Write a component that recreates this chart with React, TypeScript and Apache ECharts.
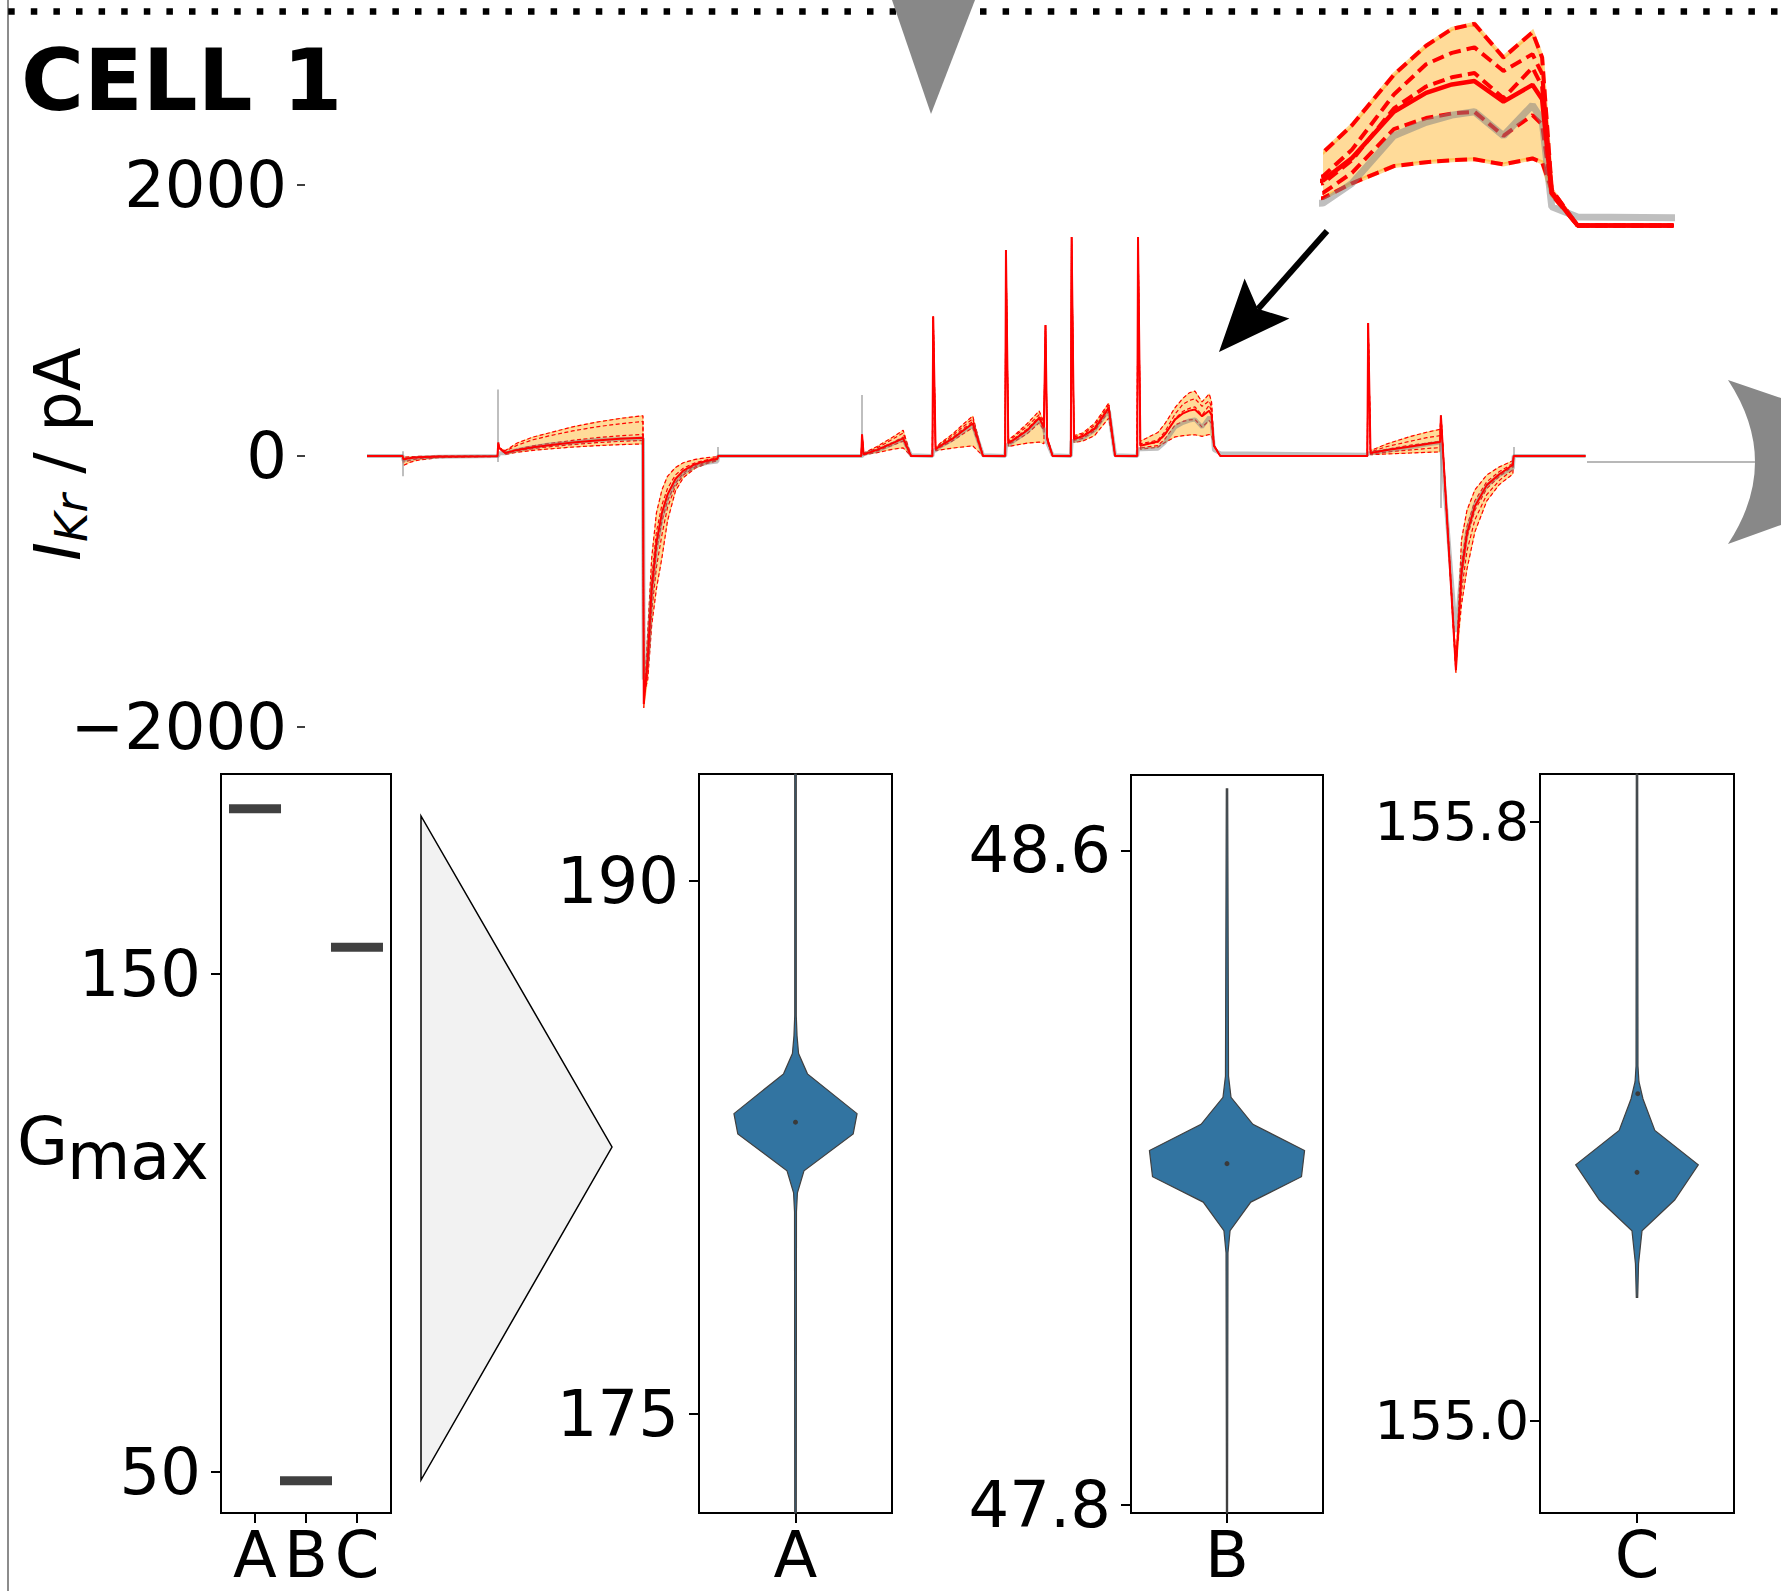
import React, { useEffect, useRef } from 'react';
import * as echarts from 'echarts';

const FONT = 'DejaVu Sans';

// ---- time grid of the current trace (s) ----
const timeS = [
  0, 0.45, 0.46, 0.55, 0.65, 0.90, 1.65,
  1.66, 1.67, 1.75, 1.90, 2.10, 2.30, 2.60, 2.90, 3.20, 3.49,
  3.50, 3.55, 3.60, 3.66, 3.73, 3.80, 3.90, 4.00, 4.15, 4.30, 4.43, 4.44,
  6.25,
  6.26, 6.28, 6.45, 6.65, 6.78, 6.88, 7.15,
  7.16, 7.19, 7.25, 7.40, 7.55, 7.66, 7.79, 8.07,
  8.08, 8.11, 8.20, 8.35, 8.50, 8.56, 8.58, 8.60, 8.67, 8.90,
  8.91, 8.94, 9.05, 9.20, 9.38, 9.46, 9.74,
  9.75, 9.78, 10.00, 10.09, 10.22, 10.32, 10.40, 10.47, 10.56, 10.65, 10.68, 10.71, 10.79, 12.65,
  12.66, 12.69, 12.90, 13.20, 13.40, 13.57, 13.58, 13.77, 13.84, 13.91, 14.01, 14.16, 14.32, 14.49, 14.50, 15.41,
];

// ---- model traces (pA), dashed ones and the solid best fit ----
const fit1 = [
  0, 0, -10, -5, -3, -1, 0,
  100, 60, 40, 96, 140, 170, 215, 250, 277, 297,
  -1860, -1300, -753, -420, -250, -150, -85, -50, -25, -12, -6, 0,
  0,
  160, 20, 70, 140, 190, 0, 0,
  1030, 60, 95, 160, 240, 295, 0, 0,
  1520, 120, 160, 240, 332, 250, 967, 150, 0, 0,
  1616, 150, 170, 240, 391, 0, 0,
  1616, 110, 173, 238, 358, 427, 467, 479, 399, 459, 399, 84, 0, 0,
  982, 40, 90, 145, 175, 197, 300, -1600, -620, -400, -250, -140, -80, -35, 0, 0,
];
const fit2 = [
  0, 0, -20, -12, -8, -3, 0,
  100, 60, 35, 80, 120, 148, 185, 215, 238, 255,
  -1840, -1450, -900, -560, -360, -240, -140, -90, -50, -28, -15, 0,
  0,
  160, 15, 60, 125, 170, 0, 0,
  1030, 55, 88, 148, 222, 275, 0, 0,
  1520, 110, 150, 220, 305, 235, 967, 140, 0, 0,
  1616, 140, 160, 225, 375, 0, 0,
  1616, 90, 117, 180, 311, 383, 410, 423, 367, 407, 360, 80, 0, 0,
  982, 30, 70, 110, 135, 150, 300, -1580, -800, -520, -330, -190, -115, -55, 0, 0,
];
const fit3 = [
  0, 0, -30, -18, -12, -5, -1,
  100, 60, 25, 50, 75, 92, 115, 135, 149, 160,
  -1800, -1550, -1050, -700, -480, -330, -200, -125, -70, -42, -25, 0,
  0,
  160, 12, 50, 100, 140, 0, 0,
  1030, 50, 80, 135, 205, 255, 0, 0,
  1520, 100, 135, 200, 290, 220, 967, 130, 0, 0,
  1616, 130, 150, 210, 362, 0, 0,
  1616, 80, 100, 155, 278, 330, 352, 362, 302, 375, 330, 78, 0, 0,
  982, 25, 50, 80, 95, 108, 300, -1560, -900, -600, -400, -240, -150, -75, 0, 0,
];
const fitBest = [
  0, 0, -25, -15, -10, -4, -1,
  100, 60, 22, 45, 65, 80, 100, 115, 127, 135,
  -1830, -1500, -980, -640, -420, -285, -170, -108, -60, -35, -20, 0,
  0,
  160, 12, 45, 95, 130, 0, 0,
  1030, 50, 75, 126, 192, 240, 0, 0,
  1520, 95, 128, 190, 280, 210, 967, 130, 0, 0,
  1616, 125, 145, 200, 354, 0, 0,
  1616, 75, 107, 160, 270, 315, 335, 343, 294, 334, 300, 76, 0, 0,
  982, 22, 45, 70, 88, 103, 300, -1580, -860, -570, -370, -215, -135, -65, 0, 0,
];
const fit5 = [
  0, 0, -45, -30, -20, -8, -2,
  100, 60, 18, 38, 55, 68, 85, 98, 108, 115,
  -1780, -1600, -1150, -820, -580, -380, -225, -140, -80, -48, -30, 0,
  0,
  160, 10, 38, 80, 110, 0, 0,
  1030, 45, 65, 110, 168, 210, 0, 0,
  1520, 85, 112, 165, 245, 190, 967, 120, 0, 0,
  1616, 115, 130, 185, 330, 0, 0,
  1616, 60, 77, 125, 229, 255, 266, 270, 213, 262, 240, 72, 0, 0,
  982, 15, 30, 45, 55, 62, 300, -1540, -1000, -700, -470, -285, -180, -100, 0, 0,
];
const fit6 = [
  0, 0, -70, -45, -30, -12, -3,
  100, 60, 12, 28, 42, 52, 66, 76, 84, 89,
  -1760, -1650, -1250, -980, -750, -480, -260, -160, -90, -55, -35, 0,
  0,
  160, 8, 25, 50, 60, 0, 0,
  1000, 40, 45, 58, 68, 75, 0, 0,
  1500, 70, 80, 95, 103, 90, 950, 110, 0, 0,
  1600, 100, 110, 150, 280, 0, 0,
  1600, 50, 65, 100, 141, 150, 155, 157, 145, 159, 150, 84, 0, 0,
  970, 10, 15, 22, 27, 30, 300, -1500, -1100, -834, -560, -332, -210, -133, 0, 0,
];
// ---- recorded data (grey) ----
const recorded = [
  0, 0, -30, -20, -12, -5, 0,
  0, 20, 20, 45, 65, 85, 100, 118, 125, 130,
  -1650, -1500, -1000, -680, -450, -310, -190, -125, -75, -50, -40, 0,
  0,
  0, 15, 40, 90, 125, 5, 0,
  40, 40, 70, 120, 185, 230, 5, 0,
  80, 80, 120, 180, 265, 200, 150, 100, 5, 0,
  110, 110, 130, 190, 340, 5, 0,
  50, 50, 53, 100, 213, 245, 262, 270, 213, 286, 250, 44, 20, 10,
  20, 20, 40, 65, 85, 100, 100, -1300, -850, -560, -360, -220, -140, -90, 0, 0,
];
// capacitive spikes of the recording: [time, high, low]
const recordedSpikes = [
  [0.455, 35, -150],
  [1.655, 490, -45],
  [4.435, 66, -10],
  [6.255, 450, 0],
  [13.575, 300, -384],
  [14.495, 66, -10],
];
const traceTicks = [-2000, 0, 2000];

// ---- bottom panels ----
const gmaxCats = ['A', 'B', 'C'];
const gmaxValues = [183.2, 48.3, 155.4];
const gmaxTicks = [50, 150];

// violin profiles: [parameter value, half width (x-axis units)]
const violinA = [
  [193.0, 0.004], [186.2, 0.004], [185.63, 0.008], [185.13, 0.016], [184.56, 0.062],
  [183.44, 0.319], [182.87, 0.299], [181.83, 0.044], [181.21, 0.010], [180.68, 0.005], [172.2, 0.004],
];
const violinB = [
  [48.675, 0.0036], [48.324, 0.008], [48.298, 0.021], [48.265, 0.135], [48.233, 0.404],
  [48.201, 0.388], [48.170, 0.124], [48.135, 0.016], [48.108, 0.005], [47.79, 0.003],
];
const violinC = [
  [155.864, 0.0036], [155.474, 0.005], [155.453, 0.010], [155.430, 0.031], [155.388, 0.092],
  [155.342, 0.316], [155.295, 0.194], [155.254, 0.026], [155.210, 0.008], [155.165, 0.0036],
];
const pointsA = [183.2];
const pointsB = [48.217];
const pointsC = [155.332, 155.437];
const ticksA = [175, 190];
const ticksB = [47.8, 48.6];
const ticksC = [155.0, 155.8];

echarts.graphic.registerShape(
  'crescent',
  echarts.graphic.extendPath('M1728,380 L1781,398 L1781,525 L1728,544 Q1782,462 1728,380 Z', {})
);

const pairs = (arr: number[]) => timeS.map((t, i) => [t, arr[i]]);
const fits = [fit1, fit2, fit3, fit5, fit6];
const allFits = [fit1, fit2, fit3, fitBest, fit5, fit6];
const bandHi = timeS.map((_, i) => Math.max(...allFits.map((f) => f[i])));
const bandLo = timeS.map((_, i) => Math.min(...allFits.map((f) => f[i])));

function bandSeries(ax: number, lw: number) {
  return {
    type: 'custom',
    xAxisIndex: ax,
    yAxisIndex: ax,
    z: 1,
    silent: true,
    data: [[timeS[0], 0]],
    renderItem: (params: any, api: any) => {
      const cs = params.coordSys;
      const up = timeS.map((t, i) => api.coord([t, bandHi[i]]));
      const lo = timeS.map((t, i) => api.coord([t, bandLo[i]])).reverse();
      return {
        type: 'polygon',
        shape: { points: up.concat(lo) },
        style: { fill: 'rgba(255,165,0,0.4)', stroke: 'rgba(255,165,0,0.45)', lineWidth: lw },
        clipPath: { type: 'rect', shape: { x: cs.x, y: cs.y, width: cs.width, height: cs.height } },
      };
    },
  };
}

function traceSeries(ax: number, big: boolean) {
  const out: any[] = [bandSeries(ax, big ? 4 : 1)];
  fits.forEach((f) => {
    out.push({
      type: 'line', xAxisIndex: ax, yAxisIndex: ax, data: pairs(f), showSymbol: false, z: 2,
      silent: true,
      lineStyle: { color: '#ff0000', width: big ? 4 : 1.2, type: big ? [12, 6] : [4, 2.5] },
    });
  });
  out.push({
    type: 'line', xAxisIndex: ax, yAxisIndex: ax, data: pairs(recorded), showSymbol: false, z: 3,
    silent: true,
    lineStyle: { color: 'rgba(128,128,128,0.5)', width: big ? 7 : 4 },
  });
  if (!big) {
    out.push({
      type: 'lines', coordinateSystem: 'cartesian2d', xAxisIndex: ax, yAxisIndex: ax, z: 3,
      silent: true,
      data: recordedSpikes.map(([t, hi, lo]) => ({ coords: [[t, hi], [t, lo]] })),
      lineStyle: { color: '#aaaaaa', width: 1.5, opacity: 1 },
    });
  }
  out.push({
    type: 'line', xAxisIndex: ax, yAxisIndex: ax, data: pairs(fitBest), showSymbol: false, z: 4,
    silent: true,
    lineStyle: { color: '#ff0000', width: big ? 4.5 : 2 },
  });
  return out;
}

function violinSeries(ax: number, profile: number[][], pts: number[]) {
  return [
    {
      type: 'custom', xAxisIndex: ax, yAxisIndex: ax, z: 2, silent: true,
      data: [[0, profile[0][0]]],
      renderItem: (params: any, api: any) => {
        const right = profile.map(([v, w]) => api.coord([w, v]));
        const left = profile.map(([v, w]) => api.coord([-w, v])).reverse();
        return {
          type: 'polygon',
          shape: { points: right.concat(left) },
          style: { fill: '#3274A1', stroke: '#404040', lineWidth: 1.2 },
        };
      },
    },
    {
      type: 'scatter', xAxisIndex: ax, yAxisIndex: ax, z: 3, silent: true,
      symbolSize: 5, itemStyle: { color: '#3a3a3a', opacity: 1 },
      data: pts.map((p, i) => [i === 0 ? 0 : 0.004, p]),
    },
  ];
}

const labelStyle = (size: number) => ({ fontFamily: FONT, fontSize: size, color: '#000' });

function panelX(idx: number, min: number, max: number, vals: number[], names: string[]) {
  return {
    type: 'value', gridIndex: idx, min, max,
    axisLine: { show: false, onZero: false }, splitLine: { show: false },
    axisTick: { show: true, customValues: vals, length: 10, lineStyle: { color: '#000', width: 2 } },
    axisLabel: {
      ...labelStyle(64), customValues: vals, margin: 10,
      formatter: (v: number) => names[vals.indexOf(v)] ?? '',
    },
  };
}
function panelY(idx: number, min: number, max: number, vals: number[], dec: number, size: number, margin: number) {
  return {
    type: 'value', gridIndex: idx, min, max,
    axisLine: { show: false, onZero: false }, splitLine: { show: false },
    axisTick: { show: true, customValues: vals, length: 10, lineStyle: { color: '#000', width: 2 } },
    axisLabel: {
      ...labelStyle(size), customValues: vals, margin,
      formatter: (v: number) => v.toFixed(dec),
    },
  };
}

export default function App() {
  const ref = useRef<HTMLDivElement>(null);
  useEffect(() => {
    if (!ref.current) return;
    const chart = echarts.init(ref.current, null, { renderer: 'svg' });
    const boxGrid = { show: true, borderColor: '#000', borderWidth: 2, backgroundColor: 'transparent' };
    const option: any = {
      animation: false,
      textStyle: { fontFamily: FONT },
      grid: [
        { left: 305, top: 185, width: 1450, height: 542 },
        { left: 1323, top: 15, width: 348, height: 223 },
        { left: 221, top: 774, width: 170, height: 739, ...boxGrid },
        { left: 699, top: 774, width: 193, height: 739, ...boxGrid },
        { left: 1131, top: 775, width: 192, height: 738, ...boxGrid },
        { left: 1540, top: 774, width: 194, height: 739, ...boxGrid },
      ],
      xAxis: [
        { type: 'value', gridIndex: 0, min: -0.784, max: 17.552, show: false, axisLine: { onZero: false } },
        { type: 'value', gridIndex: 1, min: 10.0, max: 11.08, show: false, axisLine: { onZero: false } },
        panelX(2, -0.667, 2.667, [0, 1, 2], gmaxCats),
        panelX(3, -0.5, 0.5, [0], ['A']),
        panelX(4, -0.5, 0.5, [0], ['B']),
        panelX(5, -0.5, 0.5, [0], ['C']),
      ],
      yAxis: [
        {
          type: 'value', gridIndex: 0, min: -2000, max: 2000, interval: 2000,
          axisLine: { show: false, onZero: false }, splitLine: { show: false },
          axisTick: { show: true, length: 8, lineStyle: { color: '#000', width: 1.5 } },
          axisLabel: {
            ...labelStyle(64), margin: 18,
            formatter: (v: number) => (traceTicks.includes(v) ? (v < 0 ? '\u2212' + Math.abs(v) : String(v)) : ''),
          },
        },
        { type: 'value', gridIndex: 1, min: -30, max: 500, show: false, axisLine: { onZero: false } },
        panelY(2, 41.8, 190.2, gmaxTicks, 0, 64, 20),
        panelY(3, 172.2, 193.0, ticksA, 0, 64, 20),
        panelY(4, 47.79, 48.692, ticksB, 1, 64, 20),
        panelY(5, 154.877, 155.864, ticksC, 1, 54, 11),
      ],
      series: [
        ...traceSeries(0, false),
        ...traceSeries(1, true),
        {
          type: 'scatter', xAxisIndex: 2, yAxisIndex: 2, silent: true,
          symbol: 'rect', symbolSize: [52, 9], itemStyle: { color: '#404040', opacity: 1 },
          data: gmaxValues.map((v, i) => [i, v]),
        },
        ...violinSeries(3, violinA, pointsA),
        ...violinSeries(4, violinB, pointsB),
        ...violinSeries(5, violinC, pointsC),
      ],
      graphic: {
        elements: [
          { type: 'line', shape: { x1: 8, y1: 0, x2: 8, y2: 1591 }, style: { stroke: '#8c8c8c', lineWidth: 2 } },
          {
            type: 'line', shape: { x1: 8.2, y1: 11.5, x2: 1781, y2: 11.5 },
            style: { stroke: '#000', lineWidth: 6.5, lineDash: [6.5, 16.1] },
          },
          { type: 'polygon', shape: { points: [[892, 0], [975, 0], [931, 114]] }, style: { fill: '#888888' }, z: 10 },
          {
            type: 'text', x: 21, y: 80,
            style: { text: 'CELL 1', font: `bold 86px "${FONT}"`, fill: '#000', verticalAlign: 'middle' },
          },
          {
            type: 'group', x: 80, y: 454, rotation: Math.PI / 2,
            children: [
              { type: 'text', x: -107, y: -22, style: { text: 'I', font: `italic 64px "${FONT}"`, fill: '#000', verticalAlign: 'middle' } },
              { type: 'text', x: -88, y: -9, style: { text: 'Kr', font: `italic 45px "${FONT}"`, fill: '#000', verticalAlign: 'middle' } },
              { type: 'text', x: -40, y: -22, style: { text: ' / pA', font: `64px "${FONT}"`, fill: '#000', verticalAlign: 'middle' } },
            ],
          },
          { type: 'line', shape: { x1: 1327, y1: 231, x2: 1258, y2: 309 }, style: { stroke: '#000', lineWidth: 6 } },
          {
            type: 'polygon',
            shape: { points: [[1219, 352], [1244.6, 278.4], [1257.7, 308.8], [1289.4, 318.4]] },
            style: { fill: '#000' },
          },
          { type: 'line', shape: { x1: 1587, y1: 462, x2: 1755, y2: 462 }, style: { stroke: '#a0a0a0', lineWidth: 1.5 } },
          { type: 'crescent', x: 0, y: 0, style: { fill: '#888888' } },
          {
            type: 'polygon', shape: { points: [[421, 816], [421, 1480], [612, 1147]] },
            style: { fill: '#f2f2f2', stroke: '#000', lineWidth: 1.5 },
          },
          { type: 'text', x: 17, y: 1141, style: { text: 'G', font: `66px "${FONT}"`, fill: '#000', verticalAlign: 'middle' } },
          { type: 'text', x: 67, y: 1156, style: { text: 'max', font: `65px "${FONT}"`, fill: '#000', verticalAlign: 'middle' } },
        ],
      },
    };
    chart.setOption(option);
    return () => chart.dispose();
  }, []);
  return <div ref={ref} style={{ position: 'absolute', left: 0, top: 0, width: 1781, height: 1591 }} />;
}
